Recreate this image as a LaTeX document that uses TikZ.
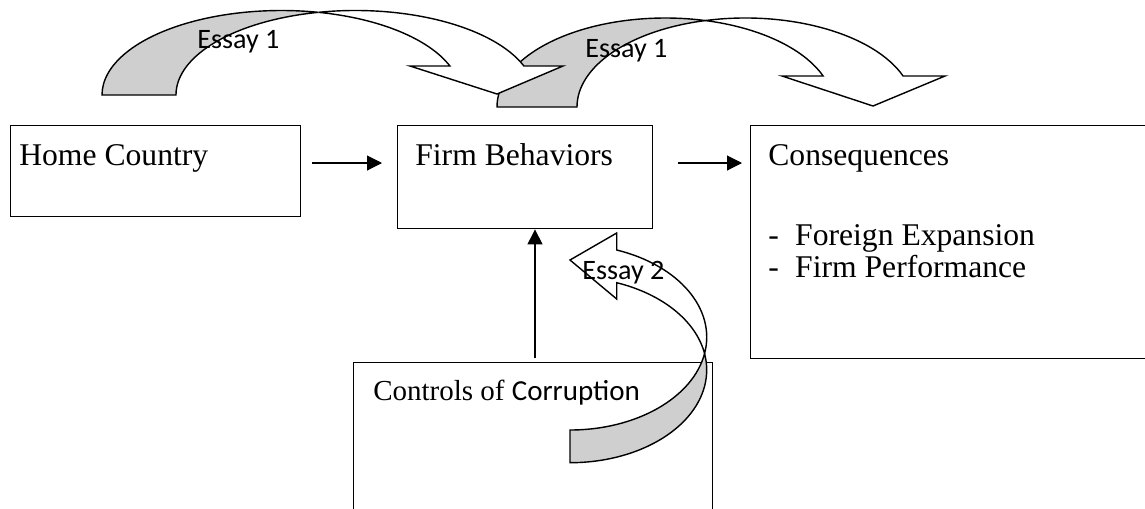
\documentclass[tikz,border=0pt]{standalone}
\usepackage{fontspec}
\setmainfont{Liberation Serif}
\newfontfamily\calibri{Carlito}
\usetikzlibrary{arrows.meta}
\definecolor{bandgray}{RGB}{207,207,207}

\begin{document}
\begin{tikzpicture}[x=0.02cm,y=0.02cm,
  box/.style={draw,line width=0.8pt,anchor=north west,inner sep=0pt},
  txt/.style={anchor=base west,inner sep=0pt,font=\fontsize{18}{21}\selectfont},
  essay/.style={anchor=base west,inner sep=0pt,font=\calibri\fontsize{16}{19}\selectfont},
  conn/.style={line width=0.6pt,-{Triangle[length=0.3cm,width=0.3cm]}},
  band/.style={draw,line width=0.8pt,fill=white,line join=miter},
  backband/.style={band,fill=bandgray},
  arcone/.style={x radius=179.4,y radius=84.5},
  arctwo/.style={x radius=168.3,y radius=89},
  arcthree/.style={x radius=136.7,y radius=92.8}]
\useasboundingbox (0,0) rectangle (1145,-508);
% boxes
\node[box,minimum width=5.8cm,minimum height=1.82cm] (home) at (10,-125) {};
\node[box,minimum width=5.1cm,minimum height=2.06cm] (firm) at (397,-125) {};
\node[box,minimum width=8.1cm,minimum height=4.66cm] (cons) at (750,-125) {};
\node[box,minimum width=7.18cm,minimum height=2.94cm] (ctrl) at (353,-362) {};
\node[txt] (hometxt) at (19,-165) {Home Country};
\node[txt] (firmtxt) at (415,-165) {Firm Behaviors};
\node[txt] (constxt) at (768,-165) {Consequences};
\node[txt] (foreign) at (768,-245) {\makebox[0.85em][l]{-}Foreign Expansion};
\node[txt] (perf) at (768,-277) {\makebox[0.85em][l]{-}Firm Performance};
\node[txt,font=\fontsize{16.5}{20}\selectfont] (ctrltxt) at (373,-400) {Controls of {\calibri Corruption}};
% straight arrows
\coordinate (row) at (0,-163);
\coordinate (col) at (535,0);
\draw[conn,shorten <=0.22cm,shorten >=0.3cm] (home.east |- row) -- (firm.west |- row);
\draw[conn,shorten <=0.5cm,shorten >=0.16cm] (firm.east |- row) -- (cons.west |- row);
\draw[conn,shorten <=0.08cm] (ctrl.north -| col) -- (firm.south -| col);
% essay 2 arrow
\draw[backband] (570,-462.7) arc[arcthree,start angle=-90,end angle=10.15]
  arc[arcthree,start angle=-10.15,end angle=-90] -- cycle;
\draw[band] (616.7,-282.7) arc[arcthree,start angle=70.03,end angle=10.15]
  arc[arcthree,start angle=-10.15,end angle=70.03]
  -- (616.7,-233) -- (570,-260) -- (616.7,-299) -- cycle;
% second essay 1 arrow
\draw[backband] (497,-107) arc[arctwo,start angle=180,end angle=76.25]
  arc[arctwo,start angle=103.75,end angle=180] -- cycle;
\draw[band] (823.1,-76) arc[arctwo,start angle=20.38,end angle=76.25]
  arc[arctwo,start angle=103.75,end angle=20.38]
  -- (945,-76) -- (873,-106) -- (782,-76) -- cycle;
% first essay 1 arrow
\draw[backband] (102,-95) arc[arcone,start angle=180,end angle=78.1]
  arc[arcone,start angle=101.9,end angle=180] -- cycle;
\draw[band] (449.9,-66) arc[arcone,start angle=20.07,end angle=78.1]
  arc[arcone,start angle=101.9,end angle=20.07]
  -- (563,-66) -- (497,-94) -- (410,-66) -- cycle;
\node[essay] (essayA) at (197,-48) {Essay 1};
\node[essay] (essayB) at (585,-57) {Essay 1};
\node[essay] (essayC) at (582,-279) {Essay 2};
\end{tikzpicture}
\end{document}
